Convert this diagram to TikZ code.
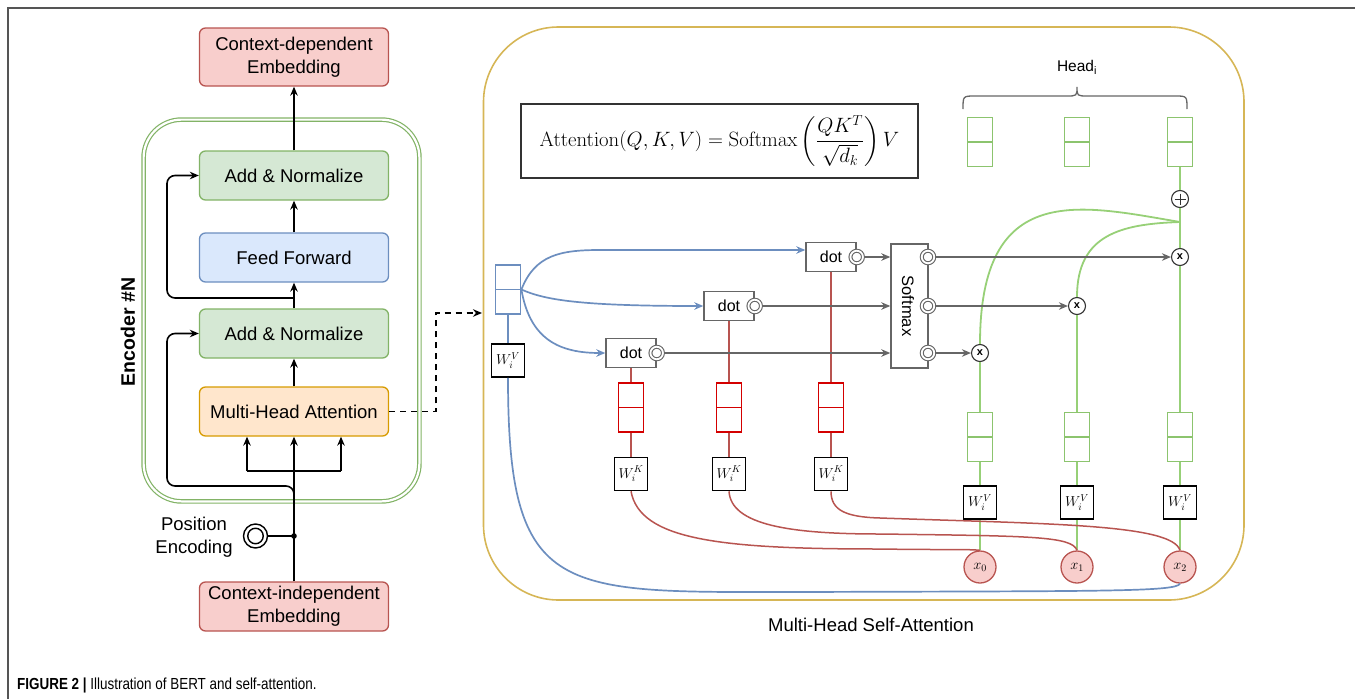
\documentclass[tikz,border=0pt]{standalone}
\usepackage{amsmath}
\usepackage[no-math]{fontspec}
\setmainfont{Liberation Sans}
\usepackage{graphicx}
\usetikzlibrary{arrows.meta,calc}

\definecolor{redfill}{HTML}{F8CECC}
\definecolor{redline}{HTML}{B85450}
\definecolor{grnfill}{HTML}{D5E8D4}
\definecolor{grnline}{HTML}{82B366}
\definecolor{blufill}{HTML}{DAE8FC}
\definecolor{bluline}{HTML}{6C8EBF}
\definecolor{orgfill}{HTML}{FFE6CC}
\definecolor{orgline}{HTML}{D79B00}
\definecolor{yelline}{HTML}{D6B656}
\definecolor{lgreen}{HTML}{97D077}
\definecolor{vecgreen}{HTML}{8CC46E}
\definecolor{vred}{HTML}{D40000}
\definecolor{gry}{HTML}{666666}
\definecolor{framegray}{HTML}{555555}

\newcommand\fs[2]{\fontsize{#1}{#2}\selectfont}

\tikzset{
  arr/.style={line width=1.6pt, -{Stealth[length=9pt,width=7.5pt]}},
  blk/.style={line width=1.6pt},
  lbox/.style={draw, rounded corners=6pt, line width=1.3pt, minimum width=189pt,
    minimum height=49pt, inner sep=0pt, align=center, font=\fs{18.5}{23}},
  embbox/.style={lbox, draw=redline, fill=redfill},
  addbox/.style={lbox, draw=grnline, fill=grnfill},
  ffbox/.style={lbox, draw=bluline, fill=blufill},
  mhabox/.style={lbox, draw=orgline, fill=orgfill},
  vecbox/.style={draw=#1, line width=1.8pt, fill=white, minimum width=25pt,
    minimum height=49pt, inner sep=0pt,
    path picture={\draw[#1, line width=1.8pt] (path picture bounding box.west) -- (path picture bounding box.east);}},
  port/.style={circle, draw=#1, fill=white, line width=1.1pt, double=white,
    double distance=1.8pt, minimum size=12.5pt, inner sep=0pt},
  mult/.style={circle, draw=black!80, fill=white, line width=1.1pt, minimum size=17pt,
    inner sep=0pt, font=\bfseries\fs{11}{11}},
  xnode/.style={circle, draw=redline, fill=redfill, line width=1.3pt, minimum size=32pt,
    inner sep=0pt, font=\fs{14.4}{14.4}},
  wbox/.style={draw=black, line width=1.6pt, fill=white, minimum size=33pt,
    inner sep=0pt, font=\fs{14.4}{14.4}},
  dotbox/.style={draw=gry, line width=1.4pt, fill=white, minimum width=50pt,
    minimum height=29pt, inner sep=0pt, font=\fs{16}{16}},
  rline/.style={redline, line width=1.5pt},
  gline/.style={lgreen, line width=1.8pt},
  bline/.style={bluline, line width=1.7pt},
  barr/.style={bluline, line width=1.7pt, -{Stealth[length=9pt,width=7.5pt]}},
  garr/.style={gry, line width=1.6pt, -{Stealth[length=9pt,width=7.5pt]}},
}

\begin{document}
\begin{tikzpicture}[x=1pt,y=-1pt]
\useasboundingbox (0,0) rectangle (1355,699);

% figure frame (left and top rules)
\draw[framegray, line width=1.5pt] (8,699) -- (8,8) -- (1355,8);

% ---------------- encoder column ----------------
\draw[grnline, line width=1.2pt, double=white, double distance=2.2pt, rounded corners=38pt]
  (143.6,119.6) rectangle (419.4,501.4);
\node[rotate=90, font=\bfseries\fs{19.5}{22}] (enclabel) at (128,332) {Encoder \#N};

\node[embbox, minimum height=58pt] (cde) at (294,57) {Context-dependent\\Embedding};
\node[addbox] (an1) at (294,175.5) {Add \& Normalize};
\node[ffbox]  (ff)  at (294,257.5) {Feed Forward};
\node[addbox] (an2) at (294,333.5) {Add \& Normalize};
\node[mhabox] (mha) at (294,411.5) {Multi-Head Attention};
\node[embbox] (cie) at (294,606.5) {Context-independent\\Embedding};

\draw[arr] (an1) -- (cde);
\draw[arr] (ff) -- (an1);
\draw[arr] (an2) -- (ff);
\draw[arr] (mha) -- (an2);
\draw[arr] (cie) -- (mha);

% residual connections
\coordinate (res1) at (294,298);
\draw[arr, rounded corners=8pt] (res1) -- (167,298) |- (an1.west);
\coordinate (res2) at (294,500);
\draw[arr, rounded corners=8pt] (res2) |- (167,486) |- (an2.west);

% query / key / value inputs
\coordinate (inL) at (247,471);
\coordinate (inR) at (341,471);
\draw[blk] (inL) -- (inR);
\draw[arr] (inL) -- (inL |- mha.south);
\draw[arr] (inR) -- (inR |- mha.south);

% position encoding
\node[circle, draw, line width=1.4pt, minimum size=24pt, inner sep=0pt] (pe) at (255.5,536) {};
\node[circle, draw, line width=1.4pt, minimum size=15.5pt, inner sep=0pt] (pein) at (pe) {};
\node[align=center, font=\fs{18.5}{23}] (pelabel) at (194,537) {Position\\Encoding};
\coordinate (pj) at (294,536);
\draw[blk] (pe) -- (pj);
\fill (pj) circle (2.8pt);

% link to the detailed view
\coordinate (qin) at (482,313);
\draw[arr, dash pattern=on 6pt off 5pt] (mha.east) -- (436,411.5) |- (qin);

% ---------------- multi-head self-attention ----------------
\draw[yelline, line width=1.6pt, rounded corners=75pt] (483.5,27) rectangle (1244,600);
\node[font=\fs{18.5}{22}] (mhsa) at (871,625) {Multi-Head Self-Attention};

\node[draw=black!80, line width=1.1pt, minimum width=397pt, minimum height=74pt, inner sep=0pt]
  (formula) at (719.5,141)
  {\fs{20.74}{25}$\mathrm{Attention}(Q,K,V)=\mathrm{Softmax}\left(\dfrac{QK^T}{\sqrt{d_k}}\right)V$};

% heads
\node[font=\fs{15.5}{18}] (headlabel) at (1077,67) {Head\textsubscript{i}};
\coordinate (brL) at (963,109);
\coordinate (brR) at (1187,109);
\draw[gry, line width=1.3pt] (brL) .. controls (963,96) .. (975,96) -- (1066,96)
  .. controls (1077,96) .. (1077,87) .. controls (1077,96) .. (1088,96) -- (1175,96)
  .. controls (1187,96) .. (brR);
\node[vecbox=vecgreen] (h0) at (980,142) {};
\node[vecbox=vecgreen] (h1) at (1077,142) {};
\node[vecbox=vecgreen] (h2) at (1180,142) {};

% query
\node[vecbox=bluline] (q) at (508,289.5) {};
\node[wbox] (wq) at (508,360.5) {$W_i^V$};

% dot products
\node[dotbox] (d0) at (631,353) {dot};
\node[dotbox] (d1) at (729,306) {dot};
\node[dotbox] (d2) at (831,257) {dot};
\node[port=gry] (p0) at (d0.east) {};
\node[port=gry] (p1) at (d1.east) {};
\node[port=gry] (p2) at (d2.east) {};

% keys
\node[vecbox=vred] (k0) at (631,407.5) {};
\node[vecbox=vred] (k1) at (729,407.5) {};
\node[vecbox=vred] (k2) at (831,407.5) {};
\node[wbox] (wk0) at (631,474) {$W_i^K$};
\node[wbox] (wk1) at (729,474) {$W_i^K$};
\node[wbox] (wk2) at (831,474) {$W_i^K$};

% softmax
\node[draw=gry, line width=1.4pt, minimum width=37pt, minimum height=124pt, inner sep=0pt] (sm) at (909.5,306) {};
\node[rotate=-90, font=\fs{16.5}{16.5}] (smlabel) at (908,306) {Softmax};
\node[port=gry] (s0) at (928,353) {};
\node[port=gry] (s1) at (928,306) {};
\node[port=gry] (s2) at (928,257) {};

% weighting
\node[mult] (m0) at (980,353) {x};
\node[mult] (m1) at (1077,306) {x};
\node[mult] (m2) at (1180,257) {x};
\node[circle, draw=black!80, fill=white, line width=1.1pt, minimum size=17pt, inner sep=0pt,
  path picture={\draw[black!80, line width=1pt] ($(path picture bounding box.center)+(-5.5,0)$) -- ($(path picture bounding box.center)+(5.5,0)$)
   ($(path picture bounding box.center)+(0,-5.5)$) -- ($(path picture bounding box.center)+(0,5.5)$);}]
  (plus) at (1180,199) {};
\coordinate (merge) at (1180,222);

% values
\node[vecbox=vecgreen] (v0) at (980,437) {};
\node[vecbox=vecgreen] (v1) at (1077,437) {};
\node[vecbox=vecgreen] (v2) at (1180,437) {};
\node[wbox] (wv0) at (980,502.5) {$W_i^V$};
\node[wbox] (wv1) at (1077,502.5) {$W_i^V$};
\node[wbox] (wv2) at (1180,502.5) {$W_i^V$};

% inputs
\node[xnode] (x0) at (980,567) {$x_0$};
\node[xnode] (x1) at (1077,567) {$x_1$};
\node[xnode] (x2) at (1180,567) {$x_2$};

% ---- connectors ----
% green value paths
\draw[gline] (x0) -- (wv0);  \draw[gline] (wv0) -- (v0);  \draw[gline] (v0) -- (m0);
\draw[gline] (x1) -- (wv1);  \draw[gline] (wv1) -- (v1);  \draw[gline] (v1) -- (m1);
\draw[gline] (x2) -- (wv2);  \draw[gline] (wv2) -- (v2);  \draw[gline] (v2) -- (m2);
\draw[gline] (m2) -- (plus);
\draw[gline] (plus) -- (h2);
\draw[gline] (m0.north) .. controls (980,180) and (1080,205) .. (merge);
\draw[gline] (m1.north) .. controls (1077,235) and (1120,224) .. (merge);

% red key paths
\draw[rline] (d0) -- (k0);  \draw[rline] (k0) -- (wk0);
\draw[rline] (d1) -- (k1);  \draw[rline] (k1) -- (wk1);
\draw[rline] (d2) -- (k2);  \draw[rline] (k2) -- (wk2);
\draw[rline] (wk0.south) .. controls (640,540) and (720,549) .. (880,549)
  .. controls (940,550) and (970,549) .. (x0.north);
\draw[rline] (wk1.south) .. controls (731,525) and (790,534) .. (880,534)
  .. controls (1030,536) and (1072,536) .. (x1.north);
\draw[rline] (wk2.south) .. controls (831,510) and (845,517) .. (880,518)
  .. controls (1050,524) and (1172,524) .. (x2.north);

% blue query paths
\draw[bline] (q) -- (wq);
\draw[bline] (wq.south) .. controls (508,600) and (560,592) .. (800,592)
  .. controls (1100,591) and (1176,592) .. (x2.south);
\draw[barr] (q.east) .. controls (535,255) and (560,250) .. (600,250) -- ($(d2.west)+(0,-7)$);
\draw[barr] (q.east) .. controls (545,300) and (580,306) .. (d1.west);
\draw[barr] (q.east) .. controls (530,340) and (560,353) .. (d0.west);

% scores into softmax, weights out of softmax
\draw[garr] (p2) -- (sm.west |- p2);
\draw[garr] (p1) -- (sm.west |- p1);
\draw[garr] (p0) -- (sm.west |- p0);
\draw[garr] (s2) -- (m2);
\draw[garr] (s1) -- (m1);
\draw[garr] (s0) -- (m0);

% caption
\node[anchor=base west, inner sep=0pt, font=\fs{16}{18}] (caption) at (17,689)
  {\scalebox{0.84}[1]{\textbf{FIGURE 2 |} Illustration of BERT and self-attention.}};
\end{tikzpicture}
\end{document}
